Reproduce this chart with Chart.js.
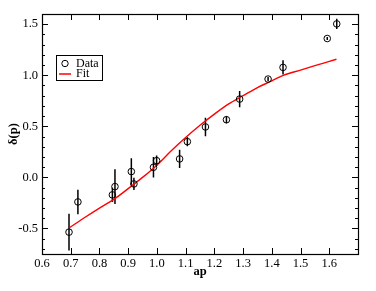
<!DOCTYPE html>
<html>
<head>
<meta charset="utf-8">
<script src="https://cdn.jsdelivr.net/npm/chart.js@4/dist/chart.umd.min.js"></script>
<style>
html,body{margin:0;padding:0;background:#fff;}
#wrap{width:376px;height:291px;}
</style>
</head>
<body>
<div id="wrap"><canvas id="c" width="376" height="291"></canvas></div>
<script>
// Data
const xData = [0.694,0.725,0.845,0.854,0.911,0.920,0.988,0.999,1.079,1.106,1.169,1.242,1.288,1.387,1.439,1.593,1.626];
const yData = [-0.536,-0.240,-0.171,-0.090,0.057,-0.064,0.099,0.164,0.181,0.350,0.494,0.565,0.767,0.963,1.077,1.360,1.503];
const yErr  = [0.18,0.12,0.07,0.17,0.13,0.06,0.10,0.05,0.09,0.045,0.09,0.035,0.08,0.02,0.07,0.015,0.05];

const fitX = [0.697,0.75,0.80,0.85,0.90,0.95,1.00,1.05,1.10,1.15,1.20,1.25,1.30,1.35,1.40,1.44,1.50,1.55,1.60,1.625];
const fitY = [-0.49,-0.39,-0.30,-0.215,-0.11,0.00,0.12,0.26,0.39,0.51,0.62,0.72,0.80,0.88,0.945,1.0,1.051,1.094,1.136,1.157];

const xTicks = [0.6,0.7,0.8,0.9,1.0,1.1,1.2,1.3,1.4,1.5,1.6];
const yTicks = [-0.5,0.0,0.5,1.0,1.5];
const yMinorStep = 0.1;

const points = xData.map((x,i)=>({x:x,y:yData[i]}));
const errSegs = [];
xData.forEach((x,i)=>{
  errSegs.push({x:x,y:yData[i]-yErr[i]});
  errSegs.push({x:x,y:yData[i]+yErr[i]});
  errSegs.push({x:x,y:NaN});
});
const fitPts = fitX.map((x,i)=>({x:x,y:fitY[i]}));

const serif = "'Liberation Serif','DejaVu Serif',serif";

const framePlugin = {
  id:'frame',
  afterDatasetsDraw(chart){
    const ctx = chart.ctx, a = chart.chartArea;
    const xs = chart.scales.x, ys = chart.scales.y;
    ctx.save();
    ctx.strokeStyle = '#000';
    ctx.lineWidth = 1;
    ctx.beginPath();
    xTicks.forEach(v=>{
      const px = Math.round(xs.getPixelForValue(v))+0.5;
      ctx.moveTo(px,a.bottom); ctx.lineTo(px,a.bottom-6);
      ctx.moveTo(px,a.top); ctx.lineTo(px,a.top+6);
    });
    const yMin = ys.min, yMax = ys.max;
    for (let k=Math.ceil(yMin/yMinorStep); k*yMinorStep<=yMax+1e-9; k++){
      const v = k*yMinorStep;
      const major = yTicks.some(t=>Math.abs(t-v)<1e-6);
      const len = major?6:3;
      const py = Math.round(ys.getPixelForValue(v))+0.5;
      ctx.moveTo(a.left,py); ctx.lineTo(a.left+len,py);
      ctx.moveTo(a.right,py); ctx.lineTo(a.right-len,py);
    }
    ctx.stroke();
    ctx.lineWidth = 1.2;
    ctx.strokeRect(Math.round(a.left)+0.5, Math.round(a.top)+0.5, Math.round(a.right-a.left), Math.round(a.bottom-a.top));
    // legend
    const lx=56.5, ly=55.5, lw=46, lh=25;
    ctx.fillStyle='#fff';
    ctx.fillRect(lx,ly,lw,lh);
    ctx.lineWidth=1;
    ctx.strokeRect(lx,ly,lw,lh);
    ctx.beginPath();
    ctx.arc(65,63.5,3.2,0,Math.PI*2);
    ctx.stroke();
    ctx.strokeStyle='#ff0000';
    ctx.lineWidth=1.5;
    ctx.beginPath();
    ctx.moveTo(59,74); ctx.lineTo(71,74);
    ctx.stroke();
    ctx.fillStyle='#000';
    ctx.font = "12px "+serif;
    ctx.textBaseline='middle';
    ctx.textAlign='left';
    ctx.fillText(chart.data.datasets[1].label,76,63.5);
    ctx.fillText(chart.data.datasets[2].label,76,74);
    ctx.restore();
  }
};

new Chart(document.getElementById('c'),{
  type:'scatter',
  data:{datasets:[
    {label:'err', data:errSegs, showLine:true, spanGaps:false, borderColor:'#000', borderWidth:1.5, pointRadius:0, pointHoverRadius:0, order:3},
    {label:'Data', data:points, showLine:false, pointRadius:3.3, pointBorderWidth:1, pointBorderColor:'#000', pointBackgroundColor:'rgba(0,0,0,0)', order:1},
    {label:'Fit', data:fitPts, showLine:true, borderColor:'#ff0000', borderWidth:1.4, pointRadius:0, cubicInterpolationMode:'monotone', order:2}
  ]},
  options:{
    responsive:false, animation:false, devicePixelRatio:1,
    layout:{padding:{top:14,right:18,left:0,bottom:12}},
    plugins:{legend:{display:false}, tooltip:{enabled:false}},
    scales:{
      x:{type:'linear', min:0.6, max:1.7,
        afterBuildTicks(s){ s.ticks = xTicks.map(v=>({value:v})); },
        afterFit(s){ s.height = 25; },
        grid:{display:false, drawTicks:false},
        border:{display:false},
        ticks:{color:'#000', padding:2, font:{family:serif,size:12.5}, callback:v=>v.toFixed(1), maxRotation:0, autoSkip:false},
        title:{display:true, text:'ap', color:'#000', font:{family:serif,size:12.5,weight:'bold'}, padding:{top:0,bottom:0}}
      },
      y:{type:'linear', min:-0.75, max:1.6,
        afterBuildTicks(s){ s.ticks = yTicks.map(v=>({value:v})); },
        afterFit(s){ s.width = 42; },
        grid:{display:false, drawTicks:false},
        border:{display:false},
        ticks:{color:'#000', padding:4, font:{family:serif,size:12.5}, callback:v=>v.toFixed(1), autoSkip:false},
        title:{display:true, text:'δ(p)', color:'#000', font:{family:serif,size:12.5,weight:'bold'}, padding:{top:6,bottom:0}}
      }
    }
  },
  plugins:[framePlugin]
});
</script>
</body>
</html>
